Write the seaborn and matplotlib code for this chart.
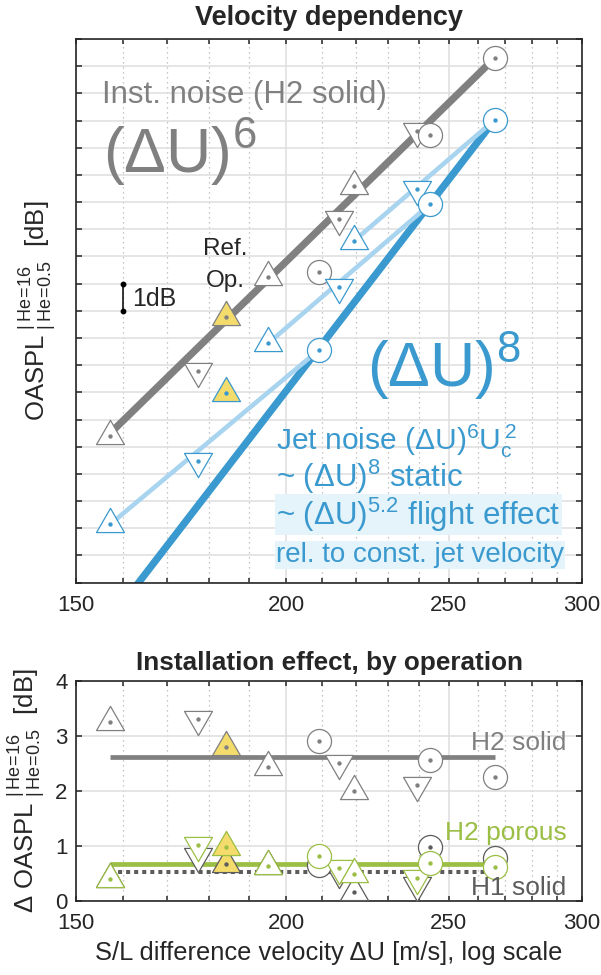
import matplotlib
matplotlib.use('Agg')
import matplotlib.pyplot as plt
from matplotlib.markers import MarkerStyle
from matplotlib.path import Path
from matplotlib.ticker import FixedLocator, FixedFormatter, NullFormatter
import seaborn as sns

# operating points, S/L difference velocity dU [m/s]
u_up = [157.2, 195.2, 219.6]      # flight case A (up triangles)
u_down = [177.3, 215.1, 239.3]    # flight case B (down triangles)
u_circ = [209.1, 243.6, 266.2]    # static (circles)
u_ref = [184.1]                   # reference operation

# top panel: OASPL He=0.5..16 [dB], relative offset
inst_up = [5.41, 11.26, 14.61]
inst_down = [7.80, 13.38, 16.63]
inst_circ = [11.44, 16.48, 19.29]
inst_ref = [9.76]
jet_up = [2.15, 8.81, 12.58]
jet_down = [4.48, 10.89, 14.48]
jet_circ = [8.55, 13.92, 17.03]
jet_ref = [6.97]

# fitted trend lines (end points)
inst_fit_u = [157.2, 266.2]
inst_fit_db = [5.5, 19.3]
jet_static_u = [162.5, 266.2]
jet_static_db = [-0.2, 17.03]
jet_flight_u = [[157.2, 209.1], [195.2, 243.6], [219.6, 266.2]]
jet_flight_db = [[2.15, 8.55], [8.81, 13.92], [12.58, 17.03]]
scale_u = [160, 160]
scale_db = [10, 11]

# bottom panel: installation effect dOASPL [dB]
h2s_up = [3.25, 2.43, 2.00]
h2s_down = [3.31, 2.51, 2.11]
h2s_circ = [2.91, 2.57, 2.26]
h2s_ref = [2.79]
h1s_up = [0.40, 0.63, 0.15]
h1s_down = [0.81, 0.52, 0.28]
h1s_circ = [0.65, 0.97, 0.77]
h1s_ref = [0.67]
h2p_up = [0.40, 0.64, 0.49]
h2p_down = [1.02, 0.59, 0.41]
h2p_circ = [0.81, 0.69, 0.62]
h2p_ref = [0.97]
mean_u = [157.2, 266.2]
h2s_mean = 2.62
h1s_mean = 0.53
h2p_mean = 0.66

GRAY = '#808080'
DGRAY = '#5c5c5c'
BLUE = '#3a99ce'
LBLUE = '#a8d4ef'
GREEN = '#9bbe45'
YELLOW = '#f4dc6c'
BOXC = '#e4f4fa'

sns.set_theme(style='ticks')
plt.rcParams['font.family'] = ['Liberation Sans', 'DejaVu Sans']
plt.rcParams['mathtext.fontset'] = 'custom'
plt.rcParams['mathtext.rm'] = 'Liberation Sans'
plt.rcParams['mathtext.default'] = 'regular'

tri_up = MarkerStyle(Path([(0, 1), (-0.866, -0.5), (0.866, -0.5), (0, 1)], closed=True))
tri_dn = MarkerStyle(Path([(0, -1), (-0.866, 0.5), (0.866, 0.5), (0, -1)], closed=True))
SIZES = {'up': 540, 'dn': 540, 'o': 300}
SHAPES = {'up': tri_up, 'dn': tri_dn, 'o': 'o'}


def markers(ax, u, v, kind, edge, face='white', z=5):
    sns.scatterplot(x=u, y=v, marker=SHAPES[kind], s=SIZES[kind], color=face,
                    edgecolor=edge, linewidth=0.9, ax=ax, zorder=z, legend=False)
    sns.scatterplot(x=u, y=v, marker='o', s=10, color=edge, edgecolor=edge,
                    linewidth=0, ax=ax, zorder=z + 0.1, legend=False)


def style_axis(ax, ymax, ystep):
    ax.set_xscale('log')
    ax.set_xlim(150, 300)
    ax.set_ylim(0, ymax)
    ax.xaxis.set_major_locator(FixedLocator([150, 200, 250, 300]))
    ax.xaxis.set_major_formatter(FixedFormatter(['150', '200', '250', '300']))
    ax.xaxis.set_minor_locator(FixedLocator([160, 170, 180, 190, 210, 220, 230, 240,
                                             260, 270, 280, 290]))
    ax.xaxis.set_minor_formatter(NullFormatter())
    ax.set_yticks(range(0, ymax + 1, ystep))
    ax.grid(which='major', axis='both', color='#dedede', lw=1.1, ls='-')
    ax.grid(which='minor', axis='x', color='#b4b4b4', lw=0.9, ls=(0, (1, 3)))
    ax.tick_params(which='both', direction='in', top=True, right=True,
                   color='#262626', width=1.1, labelsize=16, pad=9)
    ax.tick_params(axis='x', which='both', length=3.5)
    ax.tick_params(axis='y', which='both', length=4.5, pad=6)
    for sp in ax.spines.values():
        sp.set_color('#262626')
        sp.set_linewidth(1.2)
    ax.set_axisbelow(True)


fig = plt.figure(figsize=(6.01, 9.75), dpi=100)
ax1 = fig.add_axes([0.1265, 0.4024, 0.8419, 0.5576])
ax2 = fig.add_axes([0.1265, 0.0762, 0.8419, 0.2253])

# ---- top panel
style_axis(ax1, 20, 1)
ax1.set_yticklabels([])
sns.lineplot(x=inst_fit_u, y=inst_fit_db, color=GRAY, lw=5.2, ax=ax1, zorder=2,
             legend=False, solid_capstyle='butt')
sns.lineplot(x=jet_static_u, y=jet_static_db, color=BLUE, lw=5.2, ax=ax1, zorder=2,
             legend=False, solid_capstyle='butt')
for fu, fd in zip(jet_flight_u, jet_flight_db):
    sns.lineplot(x=fu, y=fd, color=LBLUE, lw=3.3, ax=ax1, zorder=2.5,
                 legend=False, solid_capstyle='butt')
ax1.plot(scale_u, scale_db, color='black', lw=1.1, marker='o', ms=3.2, zorder=3)

for u, v, k in [(u_up, inst_up, 'up'), (u_down, inst_down, 'dn'), (u_circ, inst_circ, 'o')]:
    markers(ax1, u, v, k, GRAY)
markers(ax1, u_ref, inst_ref, 'up', GRAY, YELLOW)
for u, v, k in [(u_up, jet_up, 'up'), (u_down, jet_down, 'dn'), (u_circ, jet_circ, 'o')]:
    markers(ax1, u, v, k, BLUE)
markers(ax1, u_ref, jet_ref, 'up', BLUE, YELLOW)

ax1.set_title('Velocity dependency', fontsize=19.5, fontweight='bold', pad=10)
ax1.set_ylabel(r'$OASPL^{\ |\,He\!=\!16}_{\ |\,He\!=\!0.5}$  [dB]', fontsize=18.5)
ax1.yaxis.set_label_coords(-0.035, 0.5)

T = ax1.transAxes
ax1.text(0.051, 0.883, 'Inst. noise (H2 solid)', transform=T, fontsize=22.5, color=GRAY)
ax1.text(0.054, 0.753, '$(ΔU)^6$', transform=T, fontsize=45, color=GRAY)
ax1.text(0.5745, 0.3605, '$(ΔU)^8$', transform=T, fontsize=45, color=BLUE)
ax1.text(0.395, 0.244, r'Jet noise $(ΔU)^6U_c^{\,2}$', transform=T, fontsize=21.6, color=BLUE)
ax1.text(0.395, 0.1766, '~ $(ΔU)^8$ static', transform=T, fontsize=22.5, color=BLUE)
ax1.text(0.395, 0.106, '~ $(ΔU)^{5.2}$ flight effect', transform=T, fontsize=22.5, color=BLUE,
         bbox=dict(boxstyle='square,pad=0.04', fc=BOXC, ec='none'))
ax1.text(0.395, 0.0386, 'rel. to const. jet velocity', transform=T, fontsize=20, color=BLUE,
         bbox=dict(boxstyle='square,pad=0.04', fc=BOXC, ec='none'))
ax1.text(0.2945, 0.6027, 'Ref.', transform=T, fontsize=17.5, ha='center')
ax1.text(0.2945, 0.5444, 'Op.', transform=T, fontsize=17.5, ha='center')
ax1.text(0.110, 0.5218, '1dB', transform=T, fontsize=18, va='center')

# ---- bottom panel
style_axis(ax2, 4, 1)
sns.lineplot(x=mean_u, y=[h2s_mean] * 2, color=GRAY, lw=3.4, ax=ax2, zorder=2,
             legend=False, solid_capstyle='butt')
sns.lineplot(x=mean_u, y=[h1s_mean] * 2, color=DGRAY, lw=2.9, ls=(0, (1, 1)), ax=ax2,
             zorder=2, legend=False, dash_capstyle='butt')
sns.lineplot(x=mean_u, y=[h2p_mean] * 2, color=GREEN, lw=3.4, ax=ax2, zorder=2.2,
             legend=False, solid_capstyle='butt')

for u, v, k in [(u_up, h2s_up, 'up'), (u_down, h2s_down, 'dn'), (u_circ, h2s_circ, 'o')]:
    markers(ax2, u, v, k, GRAY, z=5)
markers(ax2, u_ref, h2s_ref, 'up', GRAY, YELLOW, z=5)
for u, v, k in [(u_up, h1s_up, 'up'), (u_down, h1s_down, 'dn'), (u_circ, h1s_circ, 'o')]:
    markers(ax2, u, v, k, DGRAY, z=6)
markers(ax2, u_ref, h1s_ref, 'up', DGRAY, YELLOW, z=6)
for u, v, k in [(u_up, h2p_up, 'up'), (u_down, h2p_down, 'dn'), (u_circ, h2p_circ, 'o')]:
    markers(ax2, u, v, k, GREEN, z=7)
markers(ax2, u_ref, h2p_ref, 'up', GREEN, YELLOW, z=7)

ax2.set_title('Installation effect, by operation', fontsize=18.8, fontweight='bold', pad=8)
ax2.set_xlabel('S/L difference velocity ΔU [m/s], log scale', fontsize=18.4, labelpad=5)
ax2.set_ylabel(r'Δ $OASPL^{\ |\,He\!=\!16}_{\ |\,He\!=\!0.5}$  [dB]', fontsize=18.5)
ax2.yaxis.set_label_coords(-0.057, 0.5)

T2 = ax2.transAxes
ax2.text(0.9698, 0.686, 'H2 solid', transform=T2, fontsize=19, color=GRAY, ha='right')
ax2.text(0.9698, 0.2765, 'H2 porous', transform=T2, fontsize=19, color=GREEN, ha='right')
ax2.text(0.9698, 0.026, 'H1 solid', transform=T2, fontsize=19, color=DGRAY, ha='right', zorder=8)

fig.savefig('out.png', dpi=100)
